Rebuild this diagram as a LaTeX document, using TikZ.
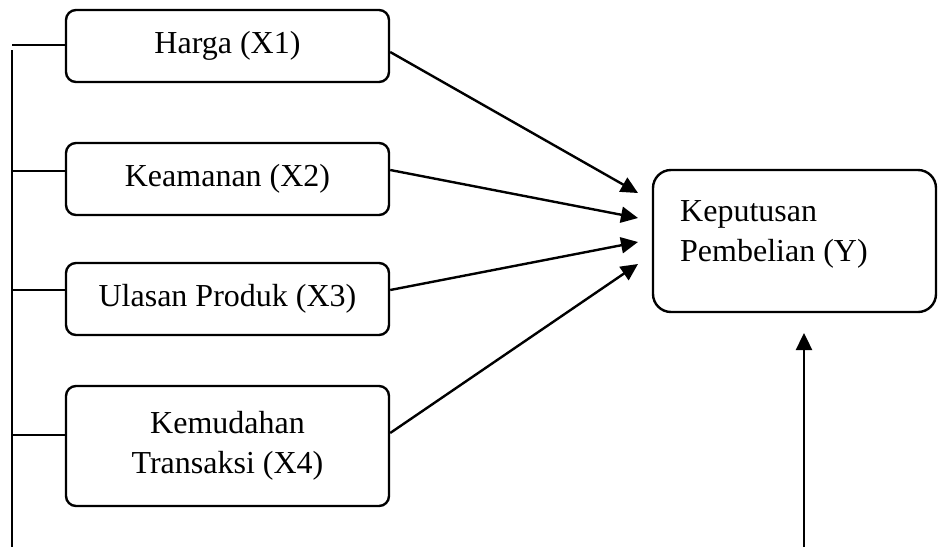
\documentclass[tikz,border=0pt]{standalone}
\usepackage{fontspec}
\setmainfont{Liberation Serif}
\usetikzlibrary{arrows.meta}
\begin{document}
\begin{tikzpicture}[x=0.5pt,y=-0.5pt, line width=1.2pt,
  txt/.style={font=\fontsize{16pt}{20pt}\selectfont},
  box/.style={draw, rounded corners=5pt, minimum width=161.5pt, minimum height=36pt, inner sep=0pt, align=center, txt},
  arr/.style={-{Triangle[length=8.5pt,width=8pt]}}]
\useasboundingbox (0,0) rectangle (938,547);
\node[box] (X1) at (227.5,46) {Harga (X1)};
\node[box] (X2) at (227.5,179) {Keamanan (X2)};
\node[box] (X3) at (227.5,299) {Ulasan Produk (X3)};
\node[box, minimum height=60pt] (X4) at (227.5,446) {Kemudahan\\Transaksi (X4)};
\node[box, rounded corners=9pt, minimum width=141.5pt, minimum height=71pt] (Y) at (794.5,241) {};
\node[anchor=west, inner sep=0pt, align=left, txt] (Ylab) at (679,234) {Keputusan\\Pembelian (Y)};
% left bracket lines
\coordinate (vtop) at (12,50);
\coordinate (vbot) at (12,547);
\draw (vtop) -- (vbot);
\coordinate (h1) at (12,45);
\coordinate (h2) at (12,171);
\coordinate (h3) at (12,290);
\coordinate (h4) at (12,435);
\draw (h1) -- (h1 -| X1.west);
\draw (h2) -- (h2 -| X2.west);
\draw (h3) -- (h3 -| X3.west);
\draw (h4) -- (h4 -| X4.west);
% arrows to Y
\coordinate (t1) at (638,193);
\coordinate (t2) at (638,218);
\coordinate (t3) at (638,242);
\coordinate (t4) at (638,264);
\draw[arr] ([yshift=-3pt]X1.east) -- (t1);
\draw[arr] ([yshift=4.5pt]X2.east) -- (t2);
\draw[arr] ([yshift=4.5pt]X3.east) -- (t3);
\draw[arr] ([yshift=6.5pt]X4.east) -- (t4);
% bottom arrow
\coordinate (b0) at (804,547);
\coordinate (b1) at (804,333);
\draw[arr] (b0) -- (b1);
\end{tikzpicture}
\end{document}
